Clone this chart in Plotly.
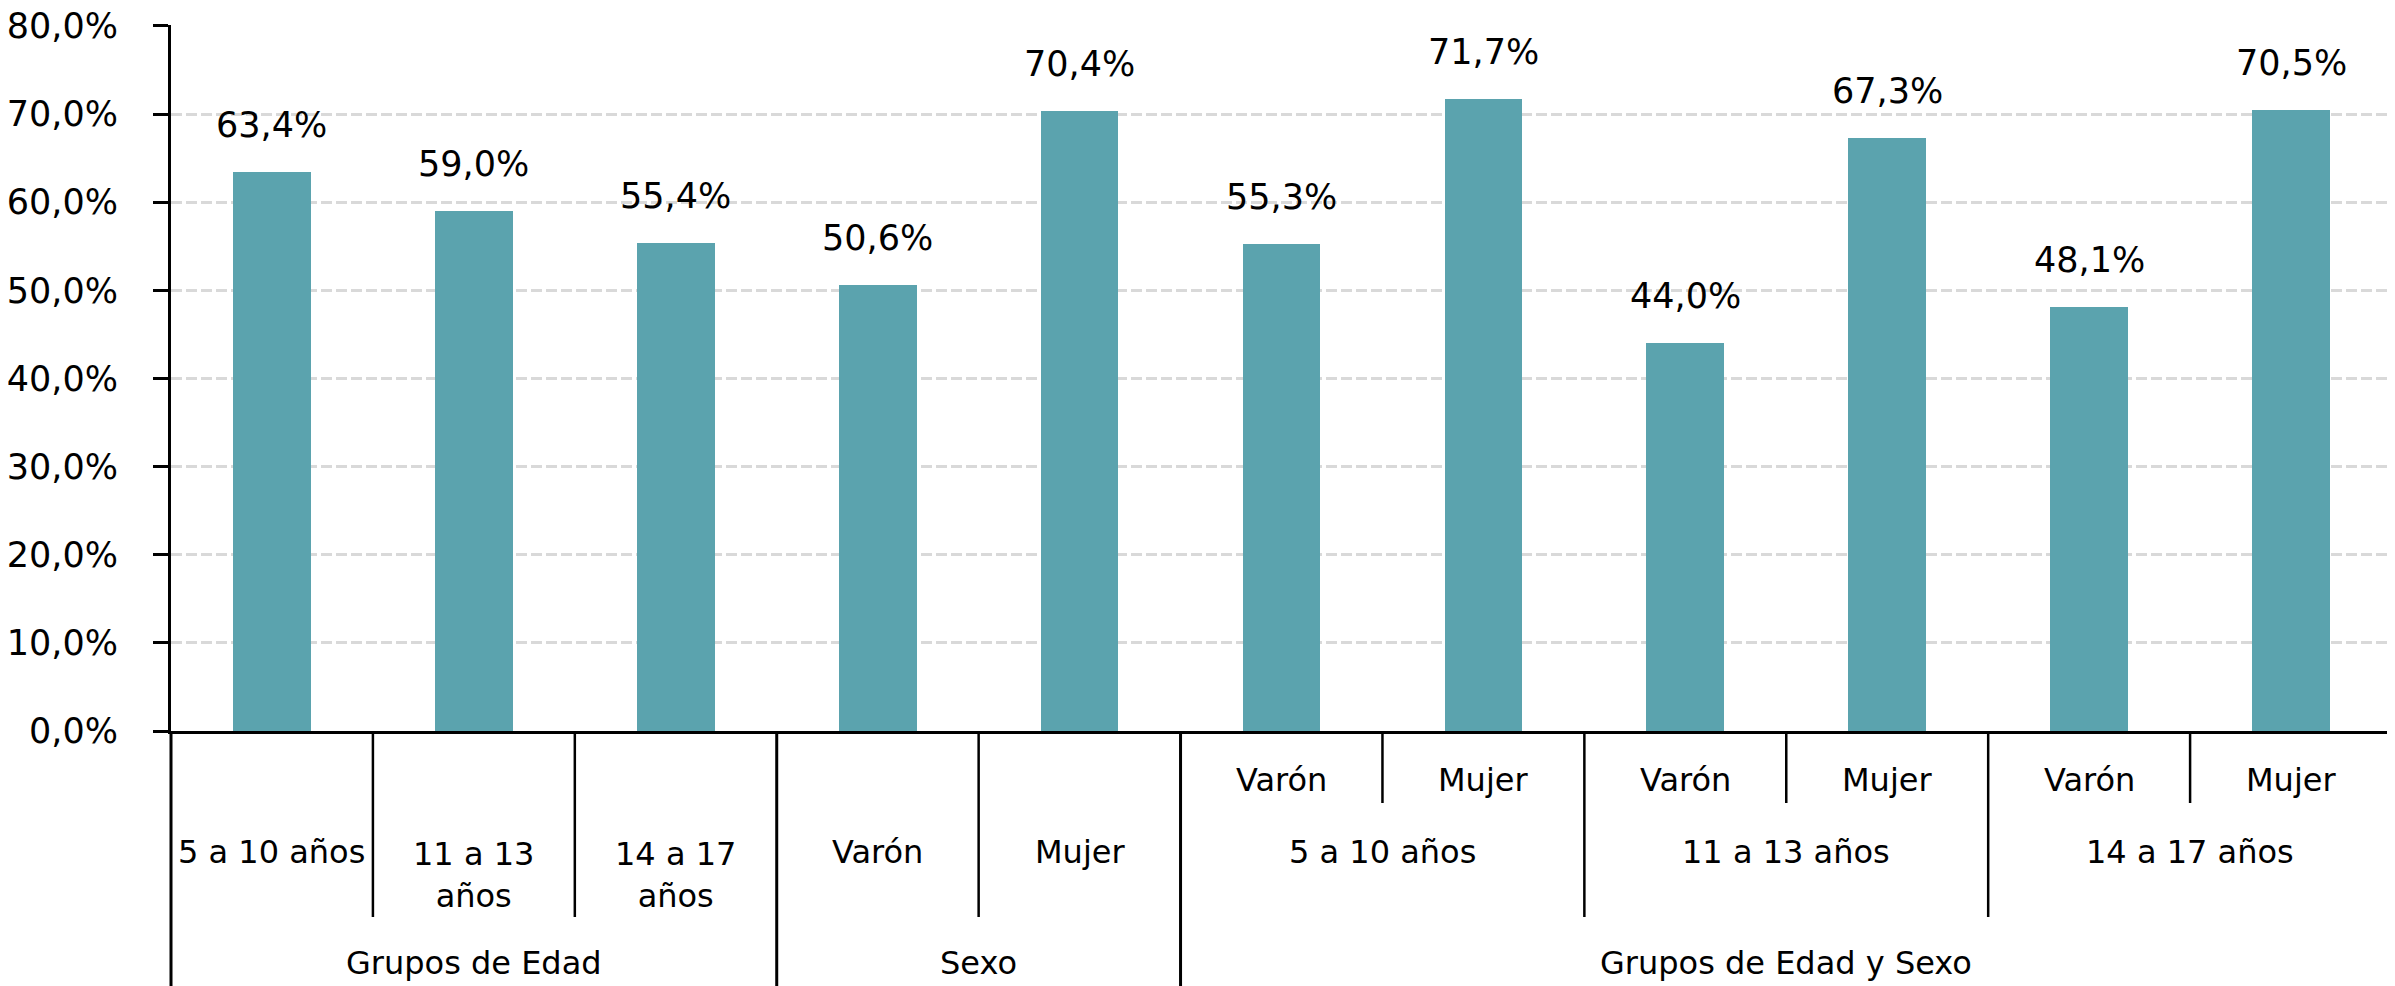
import plotly.graph_objects as go

# data
values = [63.4, 59.0, 55.4, 50.6, 70.4, 55.3, 71.7, 44.0, 67.3, 48.1, 70.5]
single_labels = ["5 a 10 años", "11 a 13<br>años", "14 a 17<br>años", "Varón", "Mujer"]
sex_labels = ["Varón", "Mujer"]
age_groups = ["5 a 10 años", "11 a 13 años", "14 a 17 años"]
groups = ["Grupos de Edad", "Sexo", "Grupos de Edad y Sexo"]
group_sizes = [3, 2, 6]
y_ticks = [0, 10, 20, 30, 40, 50, 60, 70, 80]
y_ticktext = [f"{t:.1f}%".replace(".", ",") for t in y_ticks]

bar_color = "#5BA3AE"
font_num = "DejaVu Sans"
font_cat = "DejaVu Sans"

x = list(range(len(values)))
x_range = [-0.5, len(values) - 0.5]


def px(b):
    # category boundary -> paper x
    return (b - x_range[0]) / (x_range[1] - x_range[0])


fig = go.Figure()
fig.add_trace(go.Bar(x=x, y=values, marker=dict(color=bar_color, line=dict(width=0)),
                     width=0.385, hoverinfo="skip"))

annotations = []
# value labels
for xi, v in zip(x, values):
    annotations.append(dict(x=xi, y=v, xref="x", yref="y", text=f"{v:.1f}%".replace(".", ","),
                            showarrow=False, yanchor="middle", yshift=47,
                            font=dict(family=font_num, size=35, color="black")))

# category rows (paper y below the axis)
y_sex = -0.0694
y_row2 = -0.172
y_grp = -0.329
cat_font = dict(family=font_cat, size=32, color="black")

for i, lab in enumerate(single_labels):
    yy = y_row2 if "<br>" not in lab else y_row2 - 0.032
    annotations.append(dict(x=i, y=yy, xref="x", yref="paper", text=lab, showarrow=False,
                            yanchor="middle", font=cat_font))

start = sum(group_sizes[:2])
for k, age in enumerate(age_groups):
    for j, s in enumerate(sex_labels):
        annotations.append(dict(x=start + 2 * k + j, y=y_sex, xref="x", yref="paper", text=s,
                                showarrow=False, yanchor="middle", font=cat_font))
    annotations.append(dict(x=start + 2 * k + 0.5, y=y_row2, xref="x", yref="paper", text=age,
                            showarrow=False, yanchor="middle", font=cat_font))

pos = 0
for g, n in zip(groups, group_sizes):
    annotations.append(dict(x=pos + (n - 1) / 2, y=y_grp, xref="x", yref="paper", text=g,
                            showarrow=False, yanchor="middle", font=cat_font))
    pos += n

# divider lines of the category table
y_bottom = -0.37
y_long = -0.2635
y_short = -0.102
shapes = []
full_b = [-0.5, 2.5, 4.5, 10.5]
long_b = [0.5, 1.5, 3.5, 6.5, 8.5]
short_b = [5.5, 7.5, 9.5]
for b in full_b:
    shapes.append(dict(type="line", xref="paper", yref="paper", x0=px(b), x1=px(b), y0=0, y1=y_bottom,
                       line=dict(color="black", width=3)))
for b in long_b:
    shapes.append(dict(type="line", xref="paper", yref="paper", x0=px(b), x1=px(b), y0=0, y1=y_long,
                       line=dict(color="black", width=2.5)))
for b in short_b:
    shapes.append(dict(type="line", xref="paper", yref="paper", x0=px(b), x1=px(b), y0=0, y1=y_short,
                       line=dict(color="black", width=2.5)))

# page body has an 8px margin, so the figure is a bit smaller than the window
fig.update_layout(
    width=2387, height=978,
    margin=dict(l=163, r=3, t=17, b=255, autoexpand=False),
    plot_bgcolor="white", paper_bgcolor="white",
    showlegend=False,
    annotations=annotations,
    shapes=shapes,
    bargap=0,
)
fig.update_xaxes(range=x_range, showticklabels=False, ticks="", showgrid=False, zeroline=False,
                 showline=True, linecolor="black", linewidth=3, automargin=False)
fig.update_yaxes(range=[0, 80.1], tickvals=y_ticks, ticktext=y_ticktext,
                 showgrid=True, gridcolor="#D9D9D9", gridwidth=3, griddash="11px,4px",
                 zeroline=False, showline=True, linecolor="black", linewidth=3,
                 ticks="outside", ticklen=15, tickwidth=3, tickcolor="black",
                 ticklabelstandoff=28, ticklabeloverflow="allow", automargin=False,
                 tickfont=dict(family=font_num, size=35, color="black"))

fig.write_html("out.html")
